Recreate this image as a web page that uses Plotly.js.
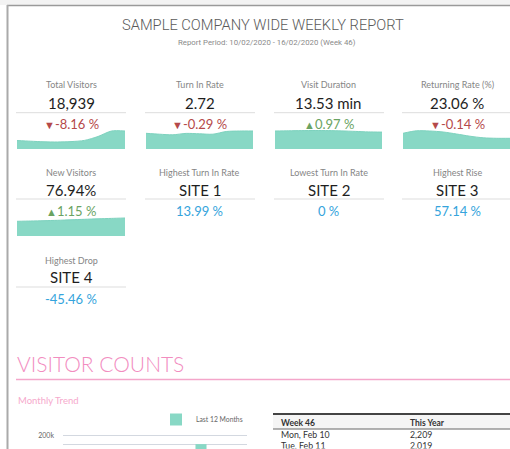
<!DOCTYPE html>
<html><head><meta charset="utf-8">
<script src="https://cdn.plot.ly/plotly-3.0.1.min.js"></script>
<style>html,body{margin:0;padding:0;background:#fff}#chart{width:510px;height:449px}</style>
</head><body><div id="chart"></div>
<script>
// ---------- DATA ----------
const reportTitle = 'SAMPLE COMPANY WIDE WEEKLY REPORT';
const reportPeriod = 'Report Period: 10/02/2020 - 16/02/2020 (Week 46)';
const kpiLabels = ['Total Visitors','Turn In Rate','Visit Duration','Returning Rate (%)','New Visitors','Highest Turn In Rate','Lowest Turn In Rate','Highest Rise','Highest Drop'];
const kpiValues = ['18,939','2.72','13.53 min','23.06 %','76.94%','SITE 1','SITE 2','SITE 3','SITE 4'];
const kpiChanges = ['-8.16 %','-0.29 %','0.97 %','-0.14 %','1.15 %','13.99 %','0 %','57.14 %','-45.46 %'];
const kpiTrend = ['down','down','up','down','up','none','none','none','none'];
// sparkline trends (relative index values)
const sparkTotalVisitors  = [8.5, 7.8, 7.2, 7.0, 7.4, 8.6, 12.5, 18, 18];
const sparkTurnInRate     = [15.7, 14.8, 14.2, 15.6, 15.2, 14.8, 17.5, 18, 18];
const sparkVisitDuration  = [18, 18.2, 18.4, 18.5, 18.4, 18.1, 17.6, 17.1, 16.9];
const sparkReturningRate  = [15.7, 18.2, 18, 17, 15, 12.8, 11.2, 10.7, 10.7];
const sparkNewVisitors    = [14.7, 15, 15.3, 15.7, 16.2, 16.7, 17.2, 17.6, 18];
const sectionTitle = 'VISITOR COUNTS';
const subSectionTitle = 'Monthly Trend';
const monthLabels = ['Mar','Apr','May','Jun','Jul','Aug','Sep','Oct','Nov','Dec','Jan','Feb'];
const monthlyVisitors = [null,null,null,null,null,null,null,null,151000,null,null,null];
const barTickVals = [150000, 200000];
const barTickText = ['', '200k'];
const tableHeader = ['Week 46','This Year'];
const tableDays = ['Mon, Feb 10','Tue, Feb 11'];
const tableThisYear = ['2,209','2,019'];

// ---------- LAYOUT HELPERS ----------
const W = 510, H = 449;
const X = p => p / W;
const Y = p => 1 - p / H;

const teal = '#88d8c5';
const red = '#b5494a', green = '#6aa362', blue = '#35a4dc';
const FONT = 'Lato, "Noto Sans", sans-serif';

const colCenters = [71, 199.5, 328.5, 457];
const colLeft = [16, 145, 274, 402];
const rows = [
  {label: 85, value: 103, div: 112.7, change: 123.5},
  {label: 172, value: 190, div: 199, change: 211},
  {label: 260, value: 277, div: 287, change: 299}
];

const annotations = [];
const shapes = [];

annotations.push({text: reportTitle, x: X(262.5), y: Y(24.5), xref:'paper', yref:'paper', showarrow:false,
  xanchor:'center', yanchor:'middle', font:{family:'Roboto, sans-serif', size:14.7, color:'#5a5a5a', weight:300}});
annotations.push({text: reportPeriod, x: X(266.5), y: Y(42.5), xref:'paper', yref:'paper', showarrow:false,
  xanchor:'center', yanchor:'middle', font:{family:'Roboto, sans-serif', size:7.8, color:'#8a8a8a'}});

kpiLabels.forEach((lab, i) => {
  const r = rows[Math.floor(i / 4)];
  const c = i % 4;
  const cx = colCenters[c];
  annotations.push({text: lab, x: X(cx), y: Y(r.label), xref:'paper', yref:'paper', showarrow:false,
    xanchor:'center', yanchor:'middle', font:{family:FONT, size:9, color:'#858585'}});
  annotations.push({text: kpiValues[i], x: X(cx), y: Y(r.value), xref:'paper', yref:'paper', showarrow:false,
    xanchor:'center', yanchor:'middle', font:{family:FONT, size:15, color:'#1e1e1e'}});
  let t = kpiChanges[i], col = blue;
  if (kpiTrend[i] === 'down') { t = '<span style="font-size:11px">▼</span>' + t; col = red; }
  if (kpiTrend[i] === 'up') { t = '<span style="font-size:11px">▲</span>' + t; col = green; }
  annotations.push({text: t, x: X(cx), y: Y(r.change), xref:'paper', yref:'paper', showarrow:false,
    xanchor:'center', yanchor:'middle', font:{family:FONT, size:13, color:col}});
  shapes.push({type:'line', xref:'paper', yref:'paper', x0: X(colLeft[c]), x1: X(Math.min(colLeft[c] + 110, 510)),
    y0: Y(r.div), y1: Y(r.div), line:{color:'#dddddd', width:1}});
});

annotations.push({text: sectionTitle, x: X(15), y: Y(363.5), xref:'paper', yref:'paper', showarrow:false,
  xanchor:'left', yanchor:'middle', font:{family:FONT, size:21, color:'#f28dbf', weight:300}});
annotations.push({text: subSectionTitle, x: X(16), y: Y(400.5), xref:'paper', yref:'paper', showarrow:false,
  xanchor:'left', yanchor:'middle', font:{family:FONT, size:9.5, color:'#f6a9cc'}});

// frame
shapes.push({type:'rect', xref:'paper', yref:'paper', x0:0, x1:1, y0:Y(5), y1:1, fillcolor:'#f3f3f3', line:{width:0}, layer:'below'});
shapes.push({type:'line', xref:'paper', yref:'paper', x0:X(7), x1:1, y0:Y(5.5), y1:Y(5.5), line:{color:'#9a9a9a', width:1.5}});
shapes.push({type:'line', xref:'paper', yref:'paper', x0:X(7.5), x1:X(7.5), y0:Y(5), y1:0, line:{color:'#aaaaaa', width:2}});
// section line
shapes.push({type:'line', xref:'paper', yref:'paper', x0:X(16), x1:1, y0:Y(379.5), y1:Y(379.5), line:{color:'#f4a6ca', width:1.5}});
// table header background and lines
shapes.push({type:'rect', xref:'paper', yref:'paper', x0:X(273), x1:1, y0:Y(429), y1:Y(414), fillcolor:'#f5f5f5', line:{width:0}, layer:'below'});
shapes.push({type:'line', xref:'paper', yref:'paper', x0:X(273), x1:1, y0:Y(414), y1:Y(414), line:{color:'#444', width:2}});
shapes.push({type:'line', xref:'paper', yref:'paper', x0:X(273), x1:1, y0:Y(429), y1:Y(429), line:{color:'#666', width:1}});

// ---------- TRACES ----------
const sparks = [sparkTotalVisitors, sparkTurnInRate, sparkVisitDuration, sparkReturningRate, sparkNewVisitors];
const sparkBoxes = [
  {x0:17, x1:125, y0:130, y1:149},
  {x0:146, x1:253, y0:130, y1:149},
  {x0:275, x1:382, y0:130, y1:149},
  {x0:403, x1:510, y0:130, y1:149},
  {x0:17, x1:125, y0:217, y1:236}
];
const traces = [];
const layout = {
  width: W, height: H, margin:{l:0, r:0, t:0, b:0},
  paper_bgcolor:'#ffffff', plot_bgcolor:'rgba(0,0,0,0)',
  showlegend: true,
  legend:{x: X(156), y: Y(405), xanchor:'left', yanchor:'top', orientation:'h',
    font:{family:FONT, size:6.8, color:'#666'}, bgcolor:'rgba(0,0,0,0)'},
  annotations, shapes
};
sparks.forEach((arr, i) => {
  const n = i + 1;
  const sx = n === 1 ? 'x' : 'x' + n, sy = n === 1 ? 'y' : 'y' + n;
  traces.push({type:'scatter', mode:'lines', x: arr.map((_, k) => k), y: arr, fill:'tozeroy',
    fillcolor: teal, line:{color:'#7dd2be', width:1, shape:'spline', smoothing:0.8},
    xaxis: sx, yaxis: sy, hoverinfo:'skip', showlegend:false});
  const b = sparkBoxes[i];
  layout[n === 1 ? 'xaxis' : 'xaxis' + n] = {domain:[X(b.x0), X(b.x1)], range:[0, arr.length - 1], visible:false, anchor: sy, fixedrange:true};
  layout[n === 1 ? 'yaxis' : 'yaxis' + n] = {domain:[Y(b.y1), Y(b.y0)], range:[0, 19], visible:false, anchor: sx, fixedrange:true};
});

traces.push({type:'bar', x: monthLabels, y: monthlyVisitors, name:'Last 12 Months', marker:{color: teal},
  width: 0.72, xaxis:'x6', yaxis:'y6', showlegend:true, hoverinfo:'skip'});
layout.xaxis6 = {domain:[X(63), X(247)], type:'category', range:[-1, 11], showticklabels:false, showgrid:false,
  zeroline:false, showline:false, ticks:'', anchor:'y6', fixedrange:true};
layout.yaxis6 = {domain:[0, Y(428)], range:[122700, 244800], tickvals: barTickVals, ticktext: barTickText,
  gridcolor:'#d3d8e0', gridwidth:1, showline:false, zeroline:false, ticks:'', ticklabelstandoff:8,
  tickfont:{family:FONT, size:7, color:'#666'}, anchor:'x6', fixedrange:true};

traces.push({type:'table', domain:{x:[X(273), 1], y:[0, Y(411.5)]}, columnwidth:[129, 108],
  header:{values: tableHeader, align:'left', height:9, fill:{color:'rgba(0,0,0,0)'}, line:{color:'rgba(0,0,0,0)', width:0},
    font:{family:FONT, size:8.5, color:'#333', weight:700}},
  cells:{values:[[tableDays.join('<br>')], [tableThisYear.join('<br>')]], align:'left', height:30,
    fill:{color:'rgba(0,0,0,0)'}, line:{color:'rgba(0,0,0,0)', width:0},
    font:{family:FONT, size:8.75, color:'#333'}}});

Plotly.newPlot('chart', traces, layout, {staticPlot:true, displayModeBar:false});
</script></body></html>
